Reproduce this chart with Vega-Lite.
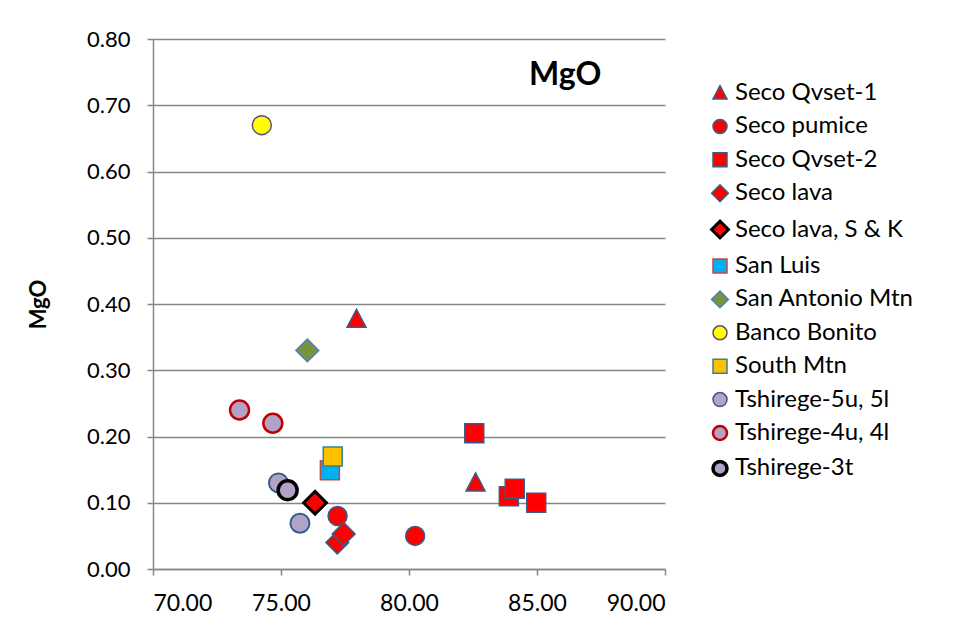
{
  "$schema": "https://vega.github.io/schema/vega-lite/v6.json",
  "width": 512,
  "height": 530,
  "autosize": {"type": "none"},
  "padding": {"left": 153, "top": 39, "right": 294, "bottom": 61},
  "background": "white",
  "title": {"text": "MgO", "anchor": "start", "frame": "group", "dx": 376, "dy": 68, "fontSize": 32, "fontWeight": "bold", "font": "Lato", "color": "black"},
  "data": {"values": [
    {"series": "Seco Qvset-1", "SiO2": 77.95, "MgO": 0.377},
    {"series": "Seco Qvset-1", "SiO2": 82.6, "MgO": 0.13},
    {"series": "Seco pumice", "SiO2": 77.21, "MgO": 0.08},
    {"series": "Seco pumice", "SiO2": 80.24, "MgO": 0.05},
    {"series": "Seco Qvset-2", "SiO2": 82.55, "MgO": 0.205},
    {"series": "Seco Qvset-2", "SiO2": 83.9, "MgO": 0.11},
    {"series": "Seco Qvset-2", "SiO2": 84.13, "MgO": 0.121},
    {"series": "Seco Qvset-2", "SiO2": 84.97, "MgO": 0.1},
    {"series": "Seco lava", "SiO2": 77.2, "MgO": 0.04},
    {"series": "Seco lava", "SiO2": 77.45, "MgO": 0.053},
    {"series": "Seco lava, S & K", "SiO2": 76.33, "MgO": 0.1},
    {"series": "San Luis", "SiO2": 76.91, "MgO": 0.149},
    {"series": "San Antonio Mtn", "SiO2": 76.03, "MgO": 0.33},
    {"series": "Banco Bonito", "SiO2": 74.25, "MgO": 0.67},
    {"series": "South Mtn", "SiO2": 77.02, "MgO": 0.17},
    {"series": "Tshirege-5u, 5l", "SiO2": 74.9, "MgO": 0.13},
    {"series": "Tshirege-5u, 5l", "SiO2": 75.74, "MgO": 0.069},
    {"series": "Tshirege-4u, 4l", "SiO2": 73.38, "MgO": 0.24},
    {"series": "Tshirege-4u, 4l", "SiO2": 74.68, "MgO": 0.22},
    {"series": "Tshirege-3t", "SiO2": 75.26, "MgO": 0.119}
  ]},
  "mark": {"type": "point", "filled": true, "size": 361, "opacity": 1},
  "encoding": {
    "x": {"field": "SiO2", "type": "quantitative",
      "scale": {"domain": [70, 90], "nice": false, "zero": false},
      "axis": {"values": [70, 75, 80, 85, 90], "format": ".2f", "title": null, "grid": false,
        "domainColor": "#868686", "domainWidth": 1.5, "tickColor": "#868686", "tickWidth": 1.5, "tickSize": 6,
        "labelFont": "Lato", "labelFontSize": 23, "labelColor": "black", "labelPadding": 17}},
    "y": {"field": "MgO", "type": "quantitative",
      "scale": {"domain": [0, 0.8], "nice": false},
      "axis": {"values": [0, 0.1, 0.2, 0.3, 0.4, 0.5, 0.6, 0.7, 0.8], "format": ".2f", "title": "MgO", "grid": true,
        "gridColor": "#868686", "gridWidth": 1.5,
        "domainColor": "#868686", "domainWidth": 1.5, "tickColor": "#868686", "tickWidth": 1.5, "tickSize": 6,
        "labelFont": "Lato", "labelFontSize": 22, "labelColor": "black", "labelPadding": 17,
        "titleFont": "Lato", "titleFontSize": 22, "titleFontWeight": "bold", "titleColor": "black", "titlePadding": 36}},
    "shape": {"field": "series", "type": "nominal",
      "scale": {"domain": ["Seco Qvset-1", "Seco pumice", "Seco Qvset-2", "Seco lava", "Seco lava, S & K", "San Luis", "San Antonio Mtn", "Banco Bonito", "South Mtn", "Tshirege-5u, 5l", "Tshirege-4u, 4l", "Tshirege-3t"],
        "range": ["M0,-1.05L1,0.85L-1,0.85Z", "circle", "square", "M-1.2,0L0,-1.2L1.2,0L0,1.2Z", "M-1.2,0L0,-1.2L1.2,0L0,1.2Z", "square", "M-1.2,0L0,-1.2L1.2,0L0,1.2Z", "circle", "square", "circle", "circle", "circle"]},
      "legend": {"title": null, "orient": "none", "legendX": 555, "legendY": 42,
        "labelFont": "Lato", "labelFontSize": 24, "labelColor": "black", "labelOffset": 3,
        "symbolSize": 196, "rowPadding": 9.4, "labelLimit": 300,
        "symbolStrokeWidth": {"expr": "datum.value === 'Tshirege-3t' ? 3.5 : datum.value === 'Seco lava, S & K' ? 3 : datum.value === 'Tshirege-4u, 4l' ? 2.5 : 1.5"}}},
    "fill": {"field": "series", "type": "nominal",
      "scale": {"domain": ["Seco Qvset-1", "Seco pumice", "Seco Qvset-2", "Seco lava", "Seco lava, S & K", "San Luis", "San Antonio Mtn", "Banco Bonito", "South Mtn", "Tshirege-5u, 5l", "Tshirege-4u, 4l", "Tshirege-3t"],
        "range": ["#FF0000", "#FF0000", "#FF0000", "#FF0000", "#FF0000", "#00B0F0", "#77933C", "#FFFF00", "#FFC000", "#B3A2C7", "#B3A2C7", "#B3A2C7"]},
      "legend": {"title": null, "orient": "none", "legendX": 555, "legendY": 42,
        "labelFont": "Lato", "labelFontSize": 24, "labelColor": "black", "labelOffset": 3,
        "symbolSize": 196, "rowPadding": 9.4, "labelLimit": 300,
        "symbolStrokeWidth": {"expr": "datum.value === 'Tshirege-3t' ? 3.5 : datum.value === 'Seco lava, S & K' ? 3 : datum.value === 'Tshirege-4u, 4l' ? 2.5 : 1.5"}}},
    "stroke": {"field": "series", "type": "nominal",
      "scale": {"domain": ["Seco Qvset-1", "Seco pumice", "Seco Qvset-2", "Seco lava", "Seco lava, S & K", "San Luis", "San Antonio Mtn", "Banco Bonito", "South Mtn", "Tshirege-5u, 5l", "Tshirege-4u, 4l", "Tshirege-3t"],
        "range": ["#385D8A", "#385D8A", "#385D8A", "#385D8A", "#000000", "#BE4B48", "#4F81BD", "#5F497A", "#31859C", "#385D8A", "#C00000", "#000000"]},
      "legend": {"title": null, "orient": "none", "legendX": 555, "legendY": 42,
        "labelFont": "Lato", "labelFontSize": 24, "labelColor": "black", "labelOffset": 3,
        "symbolSize": 196, "rowPadding": 9.4, "labelLimit": 300,
        "symbolStrokeWidth": {"expr": "datum.value === 'Tshirege-3t' ? 3.5 : datum.value === 'Seco lava, S & K' ? 3 : datum.value === 'Tshirege-4u, 4l' ? 2.5 : 1.5"}}},
    "strokeWidth": {
      "condition": [
        {"test": "datum.series === 'Tshirege-3t'", "value": 3.5},
        {"test": "datum.series === 'Seco lava, S & K'", "value": 3},
        {"test": "datum.series === 'Tshirege-4u, 4l'", "value": 2.5},
        {"test": "datum.series === 'Tshirege-5u, 5l'", "value": 2}
      ],
      "value": 1.5}
  },
  "config": {"view": {"stroke": null}}
}
